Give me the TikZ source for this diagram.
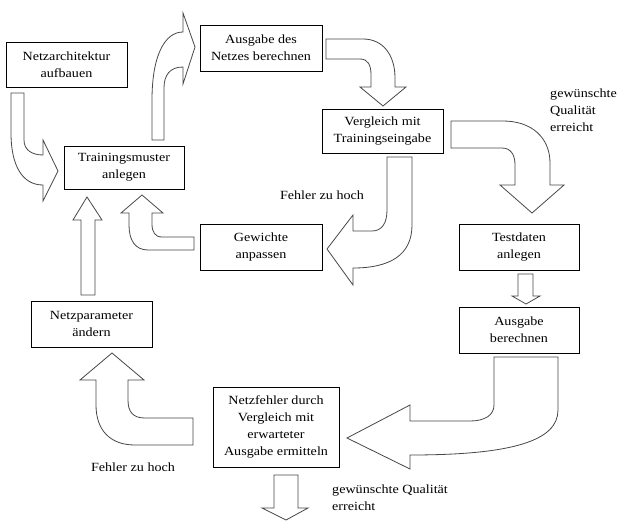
\documentclass[tikz,border=0pt]{standalone}
\usepackage{fontspec}
\setmainfont{Liberation Serif}[FakeStretch=1.13]
\begin{document}
\begin{tikzpicture}[x=1pt,y=-1pt,
  box/.style={draw=black,line width=0.9pt,minimum width=#1,inner sep=0pt,align=center,font=\fontsize{12.5}{17}\selectfont},
  lbl/.style={inner sep=0pt,font=\fontsize{12.5}{17}\selectfont},
  barrow/.style={draw=black!72,line width=0.8pt,fill=white,line join=miter}]
\useasboundingbox[fill=white] (0,0) rectangle (620,524);
% boxes
\node[box=121pt,minimum height=45pt] (n1) at (66.5,64.5) {Netzarchitektur\\aufbauen};
\node[box=120pt,minimum height=43pt] (n2) at (124,167.5) {Trainingsmuster\\anlegen};
\node[box=122pt,minimum height=46pt] (n3) at (261,48) {Ausgabe des\\Netzes berechnen};
\node[box=121pt,minimum height=44pt] (n4) at (382.5,131) {Vergleich mit\\Trainingseingabe};
\node[box=122pt,minimum height=46pt] (n5) at (261,247) {Gewichte\\anpassen};
\node[box=120pt,minimum height=46pt] (n6) at (519,247) {Testdaten\\anlegen};
\node[box=120pt,minimum height=46pt] (n7) at (519,330) {Ausgabe\\berechnen};
\node[box=126pt,minimum height=80pt] (n8) at (276,427) {Netzfehler durch\\Vergleich mit\\erwarteter\\Ausgabe ermitteln};
\node[box=121pt,minimum height=46pt] (n9) at (91.5,324) {Netzparameter\\ändern};
% labels
\node[lbl] (t1) at (322,195) {Fehler zu hoch};
\node[lbl,anchor=west,align=left] (t2) at (550,110) {gewünschte\\Qualität\\erreicht};
\node[lbl] (t3) at (133,467) {Fehler zu hoch};
\node[lbl,anchor=west,align=left] (t4) at (332,498) {gewünschte Qualität\\erreicht};
% block arrows
% A: n1 -> n2
\draw[barrow] (11,93) -- (24,93) -- (24,140) .. controls (24,150) and (32,155) .. (43,155) -- (43,140) -- (58,171) -- (43,201) -- (43,185) .. controls (22,185) and (11,165) .. (11,133) -- cycle;
% B: n2 -> n3
\draw[barrow] (152,140) -- (152,100) .. controls (152,55) and (165,32) .. (183,32) -- (183,13) -- (195,47) -- (183,84) -- (183,67) .. controls (170,67) and (164,75) .. (164,88) -- (164,140) -- cycle;
% C: n3 -> n4
\draw[barrow] (326,39) -- (363,39) .. controls (383,39) and (395,55) .. (395,78) -- (395,87) -- (406,87) -- (383,106) -- (360,87) -- (371,87) -- (371,75) .. controls (371,65) and (368,59) .. (360,59) -- (326,59) -- cycle;
% D: n4 -> n6
\draw[barrow] (451,121) -- (503,121) .. controls (532,121) and (550,138) .. (550,163) -- (550,185) -- (564,185) -- (532,213) -- (500,185) -- (515,185) -- (515,165) .. controls (515,155) and (511,148) .. (502,148) -- (451,148) -- cycle;
% E: n4 -> n5
\draw[barrow] (387,157) -- (412,157) -- (412,225) .. controls (412,255) and (390,268) .. (353,268) -- (353,285) -- (327,249) -- (353,215) -- (353,231) -- (372,231) .. controls (382,231) and (387,223) .. (387,210) -- cycle;
% F: n5 -> n2
\draw[barrow] (194,237) -- (194,250) -- (148,250) .. controls (135,250) and (129,240) .. (129,225) -- (129,213) -- (121,213) -- (142,195) -- (163,213) -- (152,213) -- (152,224) .. controls (152,232) and (155,237) .. (162,237) -- cycle;
% G: n9 -> n2
\draw[barrow] (81,295) -- (95,295) -- (95,220) -- (102,220) -- (87,197) -- (73,220) -- (81,220) -- cycle;
% H: n8 -> n9
\draw[barrow] (193,418) -- (193,445) -- (135,445) .. controls (110,445) and (96,430) .. (96,405) -- (96,380) -- (80,380) -- (112,353) -- (144,380) -- (128,380) -- (128,400) .. controls (128,412) and (133,418) .. (145,418) -- cycle;
% I: n6 -> n7
\draw[barrow] (518,274) -- (533,274) -- (533,296) -- (540,296) -- (526,304) -- (512,296) -- (518,296) -- cycle;
% J: n7 -> n8
\draw[barrow] (494,357) -- (558,357) -- (558,410) .. controls (558,440) and (515,455) .. (410,455) -- (410,469) -- (347,438) -- (410,405) -- (410,421) -- (470,421) .. controls (485,421) and (494,415) .. (494,405) -- cycle;
% K: n8 -> out
\draw[barrow] (274,475) -- (298,475) -- (298,508) -- (308,508) -- (286,520) -- (262,508) -- (274,508) -- cycle;
\end{tikzpicture}
\end{document}
